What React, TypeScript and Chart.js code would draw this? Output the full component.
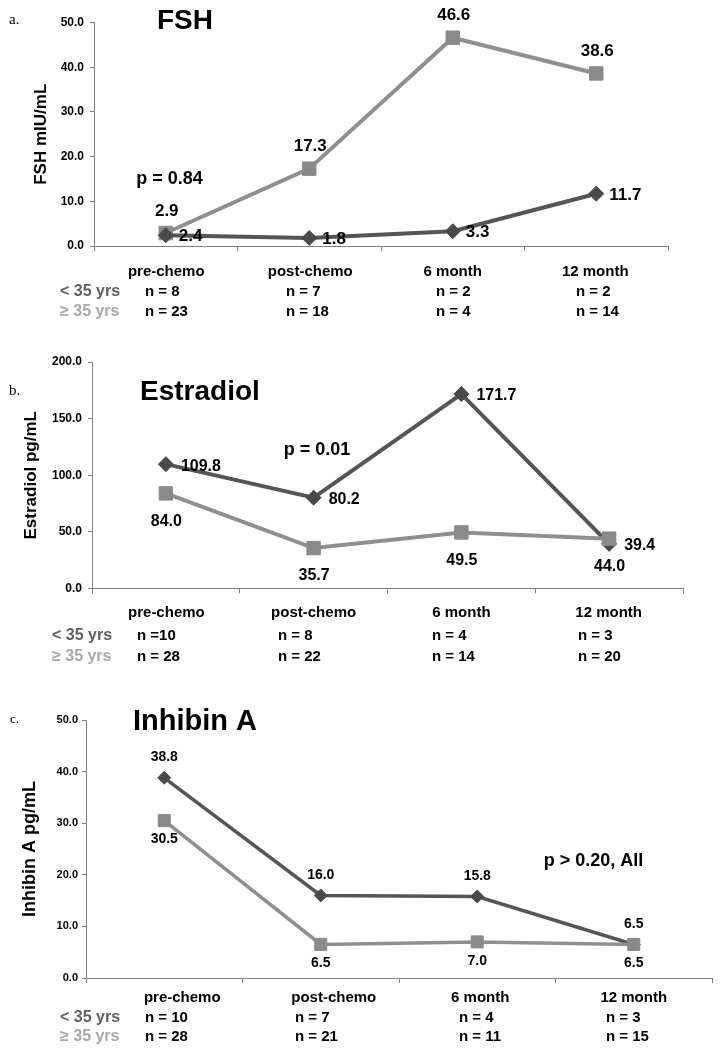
import React, { useEffect, useRef } from 'react';
import { Chart, registerables } from 'chart.js';

Chart.register(...registerables);

// ---------- data ----------
const categories = ['pre-chemo', 'post-chemo', '6 month', '12 month'];
const groupLabels = ['< 35 yrs', '\u2265 35 yrs'];

const fshUnder35 = [2.4, 1.8, 3.3, 11.7];
const fshOver35 = [2.9, 17.3, 46.6, 38.6];
const fshNUnder35 = ['n = 8', 'n = 7', 'n = 2', 'n = 2'];
const fshNOver35 = ['n = 23', 'n = 18', 'n = 4', 'n = 14'];
const fshP = 'p = 0.84';

const e2Under35 = [109.8, 80.2, 171.7, 39.4];
const e2Over35 = [84.0, 35.7, 49.5, 44.0];
const e2NUnder35 = ['n =10', 'n = 8', 'n = 4', 'n = 3'];
const e2NOver35 = ['n = 28', 'n = 22', 'n = 14', 'n = 20'];
const e2P = 'p = 0.01';

const inhUnder35 = [38.8, 16.0, 15.8, 6.5];
const inhOver35 = [30.5, 6.5, 7.0, 6.5];
const inhNUnder35 = ['n = 10', 'n = 7', 'n = 4', 'n = 3'];
const inhNOver35 = ['n = 28', 'n = 21', 'n = 11', 'n = 15'];
const inhP = 'p > 0.20, All';

// ---------- styles ----------
const SANS = '"Liberation Sans", Arial, Helvetica, sans-serif';
const SERIF = '"Liberation Serif", "Times New Roman", serif';
const DARK_FILL = '#4a4a4a';
const DARK_LINE = '#555555';
const LIGHT_FILL = '#8a8a8a';
const LIGHT_LINE = '#8f8f8f';
const AXIS = '#808080';
const ROW1 = '#606060';
const ROW2 = '#a8a8a8';

type DS = {
  values: number[];
  fill: string;
  line: string;
  style: string;
  radius: number;
  mode: 'right' | 'above' | 'below';
  dx: number;
  dy: number;
};

type Panel = {
  key: string;
  top: number;
  height: number;
  area: { left: number; right: number; top: number; bottom: number };
  yMax: number;
  yStep: number;
  tickSize: number;
  tickPad: number;
  yTitle: string;
  yTitleSize: number;
  yTitleX: number;
  lineWidth: number;
  labelSize: number;
  datasets: DS[];
  title: { text: string; x: number; y: number; size: number };
  letter: { text: string; x: number; y: number; size: number };
  p: { text: string; x: number; y: number; size: number };
  catY: number;
  row1Y: number;
  row2Y: number;
  rowLabelX: number;
  catDx: number[];
  nX: number[];
  nUnder: string[];
  nOver: string[];
};

const panels: Panel[] = [
  {
    key: 'a',
    top: 0,
    height: 335,
    area: { left: 94, right: 668, top: 22.5, bottom: 246 },
    yMax: 50,
    yStep: 10,
    tickSize: 12,
    tickPad: 6,
    yTitle: 'FSH mIU/mL',
    yTitleSize: 17,
    yTitleX: 41.5,
    lineWidth: 4,
    labelSize: 17,
    datasets: [
      { values: fshUnder35, fill: DARK_FILL, line: DARK_LINE, style: 'rectRot', radius: 7.5, mode: 'right', dx: 13, dy: 1.5 },
      { values: fshOver35, fill: LIGHT_FILL, line: LIGHT_LINE, style: 'rect', radius: 9.5, mode: 'above', dx: 1, dy: -22 },
    ],
    title: { text: 'FSH', x: 157, y: 21, size: 28 },
    letter: { text: 'a.', x: 9, y: 20, size: 15 },
    p: { text: fshP, x: 169.5, y: 179, size: 18 },
    catY: 272,
    row1Y: 292,
    row2Y: 312,
    rowLabelX: 60,
    catDx: [0.5, 1, 0, -1],
    nX: [145, 286, 436, 576],
    nUnder: fshNUnder35,
    nOver: fshNOver35,
  },
  {
    key: 'b',
    top: 335,
    height: 340,
    area: { left: 92, right: 683, top: 362, bottom: 588.5 },
    yMax: 200,
    yStep: 50,
    tickSize: 12,
    tickPad: 6,
    yTitle: 'Estradiol pg/mL',
    yTitleSize: 17,
    yTitleX: 31.5,
    lineWidth: 4,
    labelSize: 16,
    datasets: [
      { values: e2Over35, fill: LIGHT_FILL, line: LIGHT_LINE, style: 'rect', radius: 9.5, mode: 'below', dx: 0.5, dy: 28 },
      { values: e2Under35, fill: DARK_FILL, line: DARK_LINE, style: 'rectRot', radius: 7.5, mode: 'right', dx: 15, dy: 2 },
    ],
    title: { text: 'Estradiol', x: 140, y: 392.7, size: 28 },
    letter: { text: 'b.', x: 9, y: 391, size: 15 },
    p: { text: e2P, x: 317, y: 450, size: 18 },
    catY: 613,
    row1Y: 636,
    row2Y: 657,
    rowLabelX: 52,
    catDx: [0.5, 0, 0, -0.5],
    nX: [137, 278, 432, 578],
    nUnder: e2NUnder35,
    nOver: e2NOver35,
  },
  {
    key: 'c',
    top: 675,
    height: 375,
    area: { left: 86, right: 712, top: 720, bottom: 978 },
    yMax: 50,
    yStep: 10,
    tickSize: 11,
    tickPad: 4,
    yTitle: 'Inhibin A pg/mL',
    yTitleSize: 18,
    yTitleX: 30,
    lineWidth: 3.5,
    labelSize: 14,
    datasets: [
      { values: inhOver35, fill: LIGHT_FILL, line: LIGHT_LINE, style: 'rect', radius: 8.5, mode: 'below', dx: 0, dy: 19 },
      { values: inhUnder35, fill: DARK_FILL, line: DARK_LINE, style: 'rectRot', radius: 6.5, mode: 'above', dx: 0, dy: -20.5 },
    ],
    title: { text: 'Inhibin A', x: 133, y: 722, size: 29 },
    letter: { text: 'c.', x: 10, y: 720, size: 13 },
    p: { text: inhP, x: 593.5, y: 861, size: 18 },
    catY: 998,
    row1Y: 1018,
    row2Y: 1037,
    rowLabelX: 60,
    catDx: [18, 13, 3, 0],
    nX: [145, 295, 459, 606],
    nUnder: inhNUnder35,
    nOver: inhNOver35,
  },
];

function makeTextPlugin(s: Panel) {
  return {
    id: 'panelText_' + s.key,
    afterDatasetsDraw(chart: any) {
      const ctx = chart.ctx as CanvasRenderingContext2D;
      ctx.save();
      ctx.fillStyle = '#000';
      ctx.textBaseline = 'middle';
      ctx.font = `bold ${s.labelSize}px ${SANS}`;
      s.datasets.forEach((d, di) => {
        const meta = chart.getDatasetMeta(di);
        meta.data.forEach((el: any, i: number) => {
          const txt = d.values[i].toFixed(1);
          ctx.textAlign = d.mode === 'right' ? 'left' : 'center';
          ctx.fillText(txt, el.x + d.dx, el.y + d.dy);
        });
      });
      ctx.restore();
    },
    afterDraw(chart: any) {
      const ctx = chart.ctx as CanvasRenderingContext2D;
      const T = s.top;
      ctx.save();
      ctx.textBaseline = 'middle';
      ctx.fillStyle = '#000';
      ctx.textAlign = 'left';
      ctx.font = `bold ${s.title.size}px ${SANS}`;
      ctx.fillText(s.title.text, s.title.x, s.title.y - T);
      ctx.font = `${s.letter.size}px ${SERIF}`;
      ctx.fillText(s.letter.text, s.letter.x, s.letter.y - T);
      ctx.textAlign = 'center';
      ctx.font = `bold ${s.p.size}px ${SANS}`;
      ctx.fillText(s.p.text, s.p.x, s.p.y - T);
      const xs = chart.scales.x;
      ctx.font = `bold 15px ${SANS}`;
      categories.forEach((c, i) => {
        ctx.fillText(c, xs.getPixelForValue(i) + s.catDx[i], s.catY - T);
      });
      ctx.textAlign = 'left';
      ctx.font = `bold 16px ${SANS}`;
      ctx.fillStyle = ROW1;
      ctx.fillText(groupLabels[0], s.rowLabelX, s.row1Y - T);
      ctx.fillStyle = ROW2;
      ctx.fillText(groupLabels[1], s.rowLabelX, s.row2Y - T);
      ctx.fillStyle = '#000';
      ctx.font = `bold 15px ${SANS}`;
      s.nUnder.forEach((t, i) => ctx.fillText(t, s.nX[i], s.row1Y - T));
      s.nOver.forEach((t, i) => ctx.fillText(t, s.nX[i], s.row2Y - T));
      ctx.restore();
    },
  };
}

function PanelChart({ spec }: { spec: Panel }) {
  const ref = useRef<HTMLCanvasElement>(null);
  useEffect(() => {
    const canvas = ref.current;
    if (!canvas) return;
    const s = spec;
    const xH = 10;
    const localTop = s.area.top - s.top;
    const localBottom = s.area.bottom - s.top;
    const chart = new Chart(canvas, {
      type: 'line',
      data: {
        labels: categories,
        datasets: s.datasets.map((d) => ({
          data: d.values,
          borderColor: d.line,
          backgroundColor: d.fill,
          pointBackgroundColor: d.fill,
          pointBorderColor: d.fill,
          pointStyle: d.style as any,
          pointRadius: d.radius,
          pointBorderWidth: 1,
          borderWidth: s.lineWidth,
          tension: 0,
          clip: false as any,
        })),
      },
      options: {
        animation: false,
        responsive: false,
        devicePixelRatio: 1,
        events: [],
        layout: {
          padding: {
            left: 0,
            right: 723 - s.area.right,
            top: localTop,
            bottom: s.height - localBottom - xH,
          },
        },
        plugins: { legend: { display: false }, tooltip: { enabled: false } },
        scales: {
          x: {
            type: 'category',
            offset: true,
            grid: { offset: true, drawOnChartArea: false, drawTicks: true, tickLength: 5, color: AXIS, lineWidth: 1 },
            border: { display: true, color: AXIS, width: 1 },
            ticks: { display: false },
            afterFit: (sc: any) => {
              sc.height = xH;
            },
          },
          y: {
            min: 0,
            max: s.yMax,
            ticks: {
              stepSize: s.yStep,
              callback: (v: any) => Number(v).toFixed(1),
              font: { family: SANS, size: s.tickSize, weight: 'bold' },
              color: '#000',
              padding: s.tickPad,
            },
            grid: { drawOnChartArea: false, drawTicks: true, tickLength: 4, color: AXIS, lineWidth: 1 },
            border: { display: true, color: AXIS, width: 1 },
            title: {
              display: true,
              text: s.yTitle,
              color: '#000',
              font: { family: SANS, size: s.yTitleSize, weight: 'bold', lineHeight: 1.2 },
              padding: { top: s.yTitleX - (s.yTitleSize * 1.2) / 2, bottom: 0 },
            },
            afterFit: (sc: any) => {
              sc.width = s.area.left;
            },
          },
        },
      } as any,
      plugins: [makeTextPlugin(s)],
    });
    return () => chart.destroy();
  }, [spec]);
  return (
    <canvas
      ref={ref}
      width={723}
      height={spec.height}
      style={{ position: 'absolute', left: 0, top: spec.top, width: 723, height: spec.height, display: 'block' }}
    />
  );
}

export default function App() {
  return (
    <div style={{ position: 'absolute', left: 0, top: 0, width: 723, height: 1050, background: '#fff', overflow: 'hidden' }}>
      {panels.map((p) => (
        <PanelChart key={p.key} spec={p} />
      ))}
    </div>
  );
}
